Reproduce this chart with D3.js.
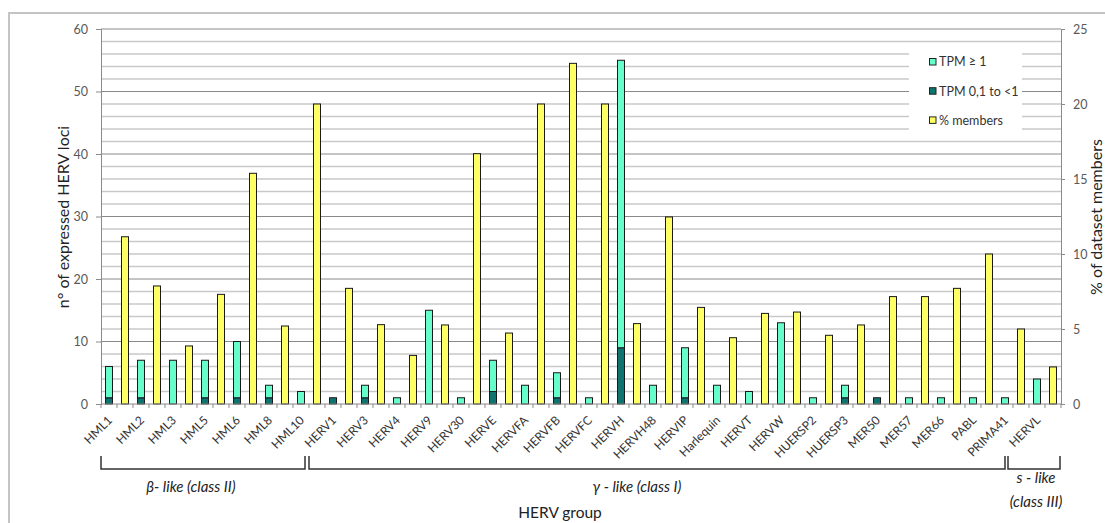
<!DOCTYPE html>
<html>
<head>
<meta charset="utf-8">
<script src="https://cdn.jsdelivr.net/npm/d3@7"></script>
<style>
  html, body { margin: 0; padding: 0; background: #fff; }
  svg { display: block; font-family: Lato, "Noto Sans", sans-serif; }
</style>
</head>
<body>
<svg id="chart" width="1105" height="523"></svg>
<script>
// HERV groups, in display order
const categories = [
  "HML1", "HML2", "HML3", "HML5", "HML6", "HML8", "HML10",
  "HERV1", "HERV3", "HERV4", "HERV9", "HERV30", "HERVE", "HERVFA", "HERVFB",
  "HERVFC", "HERVH", "HERVH48", "HERVIP", "Harlequin", "HERVT", "HERVW",
  "HUERSP2", "HUERSP3", "MER50", "MER57", "MER66", "PABL", "PRIMA41",
  "HERVL"
];

// expressed loci with TPM 0,1 to <1 (bottom segment)
const tpmLow = [
  1, 1, 0, 1, 1, 1, 0,
  1, 1, 0, 0, 0, 2, 0, 1,
  0, 9, 0, 1, 0, 0, 0,
  0, 1, 1, 0, 0, 0, 0,
  0
];

// expressed loci with TPM >= 1 (top segment)
const tpmHigh = [
  5, 6, 7, 6, 9, 2, 2,
  0, 2, 1, 15, 1, 5, 3, 4,
  1, 46, 3, 8, 3, 2, 13,
  1, 2, 0, 1, 1, 1, 1,
  4
];

// share of dataset members per group (%)
const pctMembers = [
  11.15, 7.87, 3.87, 7.31, 15.38, 5.2, 20.0,
  7.71, 5.29, 3.24, 5.27, 16.69, 4.73, 20.0, 22.71,
  20.0, 5.36, 12.47, 6.44, 4.42, 6.04, 6.13,
  4.58, 5.27, 7.16, 7.16, 7.71, 10.0, 5.0,
  2.47
];

const leftTicks = [0, 10, 20, 30, 40, 50, 60];
const rightTicks = [0, 5, 10, 15, 20, 25];

// class groupings shown under the axis
const groups = [
  { first: "HML1", last: "HML10", lines: ["β- like (class II)"] },
  { first: "HERV1", last: "PRIMA41", lines: ["γ - like (class I)"] },
  { first: "HERVL", last: "HERVL", lines: ["s - like", "(class III)"] }
];

const legendItems = [
  { label: "TPM ≥ 1", color: "#66FFCC" },
  { label: "TPM 0,1 to <1", color: "#0E7470" },
  { label: "% members", color: "#FFFF66" }
];

const colHigh = "#66FFCC", colLow = "#0E7470", colPct = "#FFFF66";

const svg = d3.select("#chart");
const plot = { left: 101, right: 1061, top: 29, bottom: 404 };

// outer frame
svg.append("rect")
  .attr("x", 9).attr("y", 13).attr("width", 1300).attr("height", 700)
  .attr("fill", "none").attr("stroke", "#c4c4c4").attr("stroke-width", 2);

const x = d3.scaleBand().domain(categories).range([plot.left, plot.right]).padding(0);
const xs = d3.scaleBand().domain(["n", "p"]).range([0, x.bandwidth()])
  .paddingInner(0.5625).paddingOuter(0.28125);
const yL = d3.scaleLinear().domain([0, 60]).range([plot.bottom, plot.top]);
const yR = d3.scaleLinear().domain([0, 25]).range([plot.bottom, plot.top]);

// gridlines: minor every 2, major every 10
const minor = d3.range(0, 61, 2).filter(v => v % 10 !== 0);
svg.append("g").selectAll("line").data(minor).join("line")
  .attr("x1", plot.left).attr("x2", plot.right)
  .attr("y1", d => yL(d)).attr("y2", d => yL(d))
  .attr("stroke", "#c9c9c9").attr("stroke-width", 1.5);
svg.append("g").selectAll("line").data(leftTicks.filter(v => v > 0)).join("line")
  .attr("x1", plot.left).attr("x2", plot.right)
  .attr("y1", d => yL(d)).attr("y2", d => yL(d))
  .attr("stroke", "#8a8a8a").attr("stroke-width", 1);

// legend panel (sits over the gridlines)
const lg = svg.append("g");
lg.append("rect").attr("x", 909).attr("y", 46).attr("width", 113).attr("height", 90).attr("fill", "#fff");
legendItems.forEach((d, i) => {
  const cy = 62 + i * 29.2;
  lg.append("rect").attr("x", 929.5).attr("y", cy - 3.5).attr("width", 6.5).attr("height", 6.5)
    .attr("fill", d.color).attr("stroke", "#222").attr("stroke-width", 1);
  lg.append("text").attr("x", 939).attr("y", cy).attr("dy", "0.35em")
    .attr("font-size", 12.5).attr("fill", "#333").text(d.label);
});

// bars
const bars = svg.append("g");
categories.forEach((c, i) => {
  const bx = x(c) + xs("n");
  const w = xs.bandwidth();
  if (tpmLow[i] > 0) {
    bars.append("rect").attr("x", bx).attr("y", yL(tpmLow[i]))
      .attr("width", w).attr("height", yL(0) - yL(tpmLow[i]))
      .attr("fill", colLow).attr("stroke", "#1a1a1a").attr("stroke-width", 1);
  }
  if (tpmHigh[i] > 0) {
    bars.append("rect").attr("x", bx).attr("y", yL(tpmLow[i] + tpmHigh[i]))
      .attr("width", w).attr("height", yL(tpmLow[i]) - yL(tpmLow[i] + tpmHigh[i]))
      .attr("fill", colHigh).attr("stroke", "#1a1a1a").attr("stroke-width", 1);
  }
  const px = x(c) + xs("p");
  bars.append("rect").attr("x", px).attr("y", yR(pctMembers[i]))
    .attr("width", w).attr("height", yR(0) - yR(pctMembers[i]))
    .attr("fill", colPct).attr("stroke", "#1a1a1a").attr("stroke-width", 1);
});

// axes
const axisColor = "#8a8a8a";
const gl = svg.append("g").attr("transform", `translate(${plot.left},0)`)
  .call(d3.axisLeft(yL).tickValues(leftTicks).tickSize(5).tickPadding(8));
const gr = svg.append("g").attr("transform", `translate(${plot.right},0)`)
  .call(d3.axisRight(yR).tickValues(rightTicks).tickSize(4).tickPadding(8));
[gl, gr].forEach(g => {
  g.select(".domain").attr("stroke", axisColor);
  g.selectAll(".tick line").attr("stroke", axisColor);
  g.selectAll(".tick text").attr("fill", "#595959").attr("font-size", 12.5)
    .attr("font-family", "Lato, 'Noto Sans', sans-serif");
});

// category axis: ticks at each half slot
const halfTicks = d3.range(0, categories.length * 2 + 1).map(k => plot.left + k * x.bandwidth() / 2);
svg.append("line").attr("x1", plot.left).attr("x2", plot.right)
  .attr("y1", plot.bottom).attr("y2", plot.bottom).attr("stroke", axisColor);
svg.append("g").selectAll("line").data(halfTicks).join("line")
  .attr("x1", d => d).attr("x2", d => d)
  .attr("y1", plot.bottom).attr("y2", plot.bottom + 4).attr("stroke", axisColor);

// category labels, rotated
svg.append("g").selectAll("text").data(categories).join("text")
  .attr("transform", d => `translate(${x(d) + xs("n") + xs.bandwidth() / 2 + 4},${plot.bottom + 17}) rotate(-45)`)
  .attr("text-anchor", "end").attr("font-size", 12).attr("fill", "#333")
  .text(d => d);

// group brackets
const tc = c => x(c) + xs("n") + xs.bandwidth() / 2;
const bTop = 456, bBot = 469;
const spans = [
  [plot.left, tc("HML10") + 4],
  [tc("HML10") + 8, tc("PRIMA41")],
  [tc("PRIMA41") + 3, plot.right - 1]
];
const bg = svg.append("g");
spans.forEach(([a, b], i) => {
  bg.append("path")
    .attr("d", `M${a},${bTop}V${bBot}H${b}V${bTop}`)
    .attr("fill", "none").attr("stroke", "#333").attr("stroke-width", 1.5);
});
const gLabelPos = [
  { x: 191, y: [492] },
  { x: 637, y: [492] },
  { x: 1036, y: [483, 507] }
];
groups.forEach((g, i) => {
  g.lines.forEach((ln, j) => {
    bg.append("text").attr("x", gLabelPos[i].x).attr("y", gLabelPos[i].y[j])
      .attr("text-anchor", "middle").attr("font-size", 15).attr("font-style", "italic")
      .attr("fill", "#222").text(ln);
  });
});

// axis titles
svg.append("text").attr("x", 560).attr("y", 518).attr("text-anchor", "middle")
  .attr("font-size", 15.5).attr("fill", "#222").text("HERV group");
svg.append("text").attr("transform", "translate(69,217) rotate(-90)")
  .attr("text-anchor", "middle").attr("font-size", 16).attr("fill", "#222")
  .text("n° of expressed HERV loci");
svg.append("text").attr("transform", "translate(1102,217) rotate(-90)")
  .attr("text-anchor", "middle").attr("font-size", 16).attr("fill", "#222")
  .text("% of dataset members");
</script>
</body>
</html>
